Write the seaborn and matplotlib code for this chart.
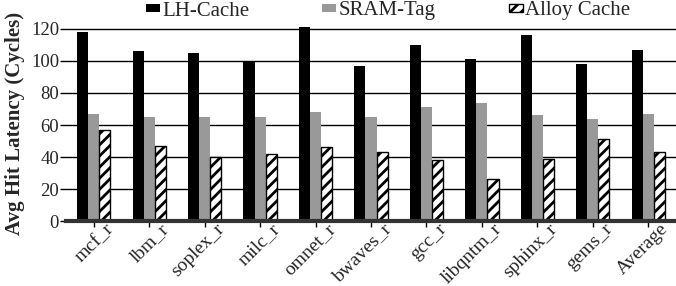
import pandas as pd
import seaborn as sns
import matplotlib.pyplot as plt
import matplotlib.transforms as mtransforms

benchmarks = ["mcf_r", "lbm_r", "soplex_r", "milc_r", "omnet_r", "bwaves_r",
              "gcc_r", "libqntm_r", "sphinx_r", "gems_r", "Average"]
lh_cache = [118, 106, 105, 100, 121, 97, 110, 101, 116, 98, 107]
sram_tag = [67, 65, 65, 65, 68, 65, 71, 74, 66, 64, 67]
alloy_cache = [57, 47, 40, 42, 46, 43, 38, 26, 39, 51, 43]
series = ["LH-Cache", "SRAM-Tag", "Alloy Cache"]

df = pd.DataFrame({"bench": benchmarks * 3,
                   "design": [s for s in series for _ in benchmarks],
                   "latency": lh_cache + sram_tag + alloy_cache})

sns.set_style("white")
plt.rcParams["font.family"] = ["Liberation Serif", "DejaVu Serif"]
plt.rcParams["hatch.linewidth"] = 2.0

fig = plt.figure(figsize=(6.76, 2.86), dpi=100)
ax = fig.add_axes([66 / 676, 0.227, 1 - 66 / 676, 0.683])

sns.barplot(data=df, x="bench", y="latency", hue="design", order=benchmarks,
            hue_order=series, palette=["black", "#999999", "white"],
            width=0.6, gap=0, saturation=1, ax=ax, legend=False)

# style bars: hatch on the third series
for i, cont in enumerate(ax.containers):
    for bar in cont:
        bar.set_linewidth(0)
        if i == 2:
            bar.set_hatch("///")
            bar.set_edgecolor("black")
            bar.set_linewidth(1.0)

ax.set_ylim(0, 122)
ax.set_xlim(-0.5, len(benchmarks) - 0.5)
ax.set_yticks([0, 20, 40, 60, 80, 100, 120])
ax.yaxis.grid(True, color="black", linewidth=1)
ax.set_axisbelow(True)
for s in ["top", "right", "left"]:
    ax.spines[s].set_visible(False)
ax.spines["bottom"].set_color("#333333")
ax.spines["bottom"].set_linewidth(3)
ax.spines["bottom"].set_zorder(5)

ax.tick_params(axis="y", left=True, length=4, width=1, color="black",
               labelsize=13.5, pad=1)
ax.tick_params(axis="x", bottom=True, length=4, width=1, color="black",
               labelsize=14, pad=0)
shift = mtransforms.ScaledTranslation(11 / 100, 6 / 100, fig.dpi_scale_trans)
for lbl in ax.get_xticklabels():
    lbl.set_rotation(45)
    lbl.set_ha("right")
    lbl.set_rotation_mode("anchor")
    lbl.set_transform(lbl.get_transform() + shift)
ax.set_xlabel("")
ax.set_ylabel("Avg Hit Latency (Cycles)", fontsize=15, fontweight="bold", labelpad=4)

handles = [plt.Rectangle((0, 0), 1, 1, facecolor="black", edgecolor="none"),
           plt.Rectangle((0, 0), 1, 1, facecolor="#999999", edgecolor="none"),
           plt.Rectangle((0, 0), 1, 1, facecolor="white", edgecolor="black",
                         hatch="///", linewidth=1)]
fig.legend(handles, series, loc="center", bbox_to_anchor=(388 / 676, 1 - 11 / 286),
           ncol=3, frameon=False, fontsize=15, handlelength=0.67, handleheight=0.25,
           handletextpad=0.12, columnspacing=3.5, borderaxespad=0, borderpad=0)

fig.savefig("out.png", dpi=100)
